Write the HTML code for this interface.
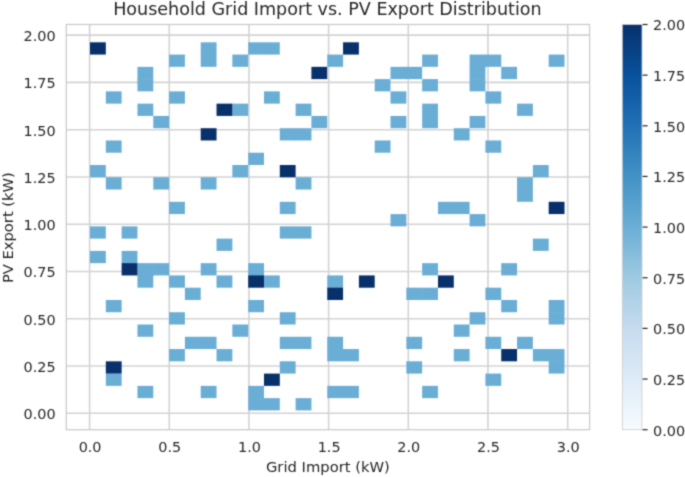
<!DOCTYPE html><html><head><meta charset="utf-8"><title>Household Grid Import vs. PV Export Distribution</title>
<style>html,body{margin:0;padding:0;background:#fff;}svg{display:block;}text{font-family:"DejaVu Sans","Liberation Sans",sans-serif;fill:#262626;}</style></head><body>
<svg width="685" height="477" viewBox="0 0 685 477">
<defs><linearGradient id="cb" x1="0" y1="1" x2="0" y2="0">
<stop offset="0.0000" stop-color="#f7fbff"/>
<stop offset="0.1250" stop-color="#deebf7"/>
<stop offset="0.2500" stop-color="#c6dbef"/>
<stop offset="0.3750" stop-color="#9ecae1"/>
<stop offset="0.5000" stop-color="#6baed6"/>
<stop offset="0.6250" stop-color="#4292c6"/>
<stop offset="0.7500" stop-color="#2171b5"/>
<stop offset="0.8750" stop-color="#08519c"/>
<stop offset="1.0000" stop-color="#08306b"/>
</linearGradient>
<filter id="soft" x="0" y="0" width="685" height="477" filterUnits="userSpaceOnUse" color-interpolation-filters="sRGB"><feConvolveMatrix order="3" kernelMatrix="0.03 0.11 0.03 0.11 0.44 0.11 0.03 0.11 0.03" divisor="1" edgeMode="duplicate" preserveAlpha="true"/></filter></defs>
<g filter="url(#soft)">
<rect width="685" height="477" fill="#ffffff"/>
<g stroke="#d3d3d3" stroke-width="1.6" fill="none">
<line x1="89.60" y1="24.50" x2="89.60" y2="429.70"/>
<line x1="169.28" y1="24.50" x2="169.28" y2="429.70"/>
<line x1="248.96" y1="24.50" x2="248.96" y2="429.70"/>
<line x1="328.64" y1="24.50" x2="328.64" y2="429.70"/>
<line x1="408.32" y1="24.50" x2="408.32" y2="429.70"/>
<line x1="488.00" y1="24.50" x2="488.00" y2="429.70"/>
<line x1="567.68" y1="24.50" x2="567.68" y2="429.70"/>
<line x1="66.30" y1="413.30" x2="589.60" y2="413.30"/>
<line x1="66.30" y1="366.03" x2="589.60" y2="366.03"/>
<line x1="66.30" y1="318.76" x2="589.60" y2="318.76"/>
<line x1="66.30" y1="271.49" x2="589.60" y2="271.49"/>
<line x1="66.30" y1="224.22" x2="589.60" y2="224.22"/>
<line x1="66.30" y1="176.95" x2="589.60" y2="176.95"/>
<line x1="66.30" y1="129.68" x2="589.60" y2="129.68"/>
<line x1="66.30" y1="82.41" x2="589.60" y2="82.41"/>
<line x1="66.30" y1="35.14" x2="589.60" y2="35.14"/>
</g>
<g>
<rect x="200.72" y="42.30" width="15.82" height="12.87" fill="#6aaed6"/>
<rect x="248.17" y="42.30" width="16.42" height="12.27" fill="#6aaed6"/>
<rect x="263.98" y="42.30" width="15.82" height="12.27" fill="#6aaed6"/>
<rect x="169.08" y="54.57" width="15.82" height="12.27" fill="#6aaed6"/>
<rect x="200.72" y="54.57" width="15.82" height="12.27" fill="#6aaed6"/>
<rect x="232.35" y="54.57" width="15.82" height="12.27" fill="#6aaed6"/>
<rect x="327.25" y="54.57" width="15.82" height="12.27" fill="#6aaed6"/>
<rect x="422.15" y="54.57" width="15.82" height="12.27" fill="#6aaed6"/>
<rect x="469.60" y="54.57" width="16.42" height="12.87" fill="#6aaed6"/>
<rect x="485.42" y="54.57" width="15.82" height="12.27" fill="#6aaed6"/>
<rect x="548.68" y="54.57" width="15.82" height="12.27" fill="#6aaed6"/>
<rect x="137.45" y="66.84" width="15.82" height="12.87" fill="#6aaed6"/>
<rect x="390.52" y="66.84" width="16.42" height="12.27" fill="#6aaed6"/>
<rect x="406.33" y="66.84" width="15.82" height="12.27" fill="#6aaed6"/>
<rect x="469.60" y="66.84" width="15.82" height="12.87" fill="#6aaed6"/>
<rect x="501.23" y="66.84" width="15.82" height="12.27" fill="#6aaed6"/>
<rect x="137.45" y="79.11" width="15.82" height="12.27" fill="#6aaed6"/>
<rect x="374.70" y="79.11" width="15.82" height="12.27" fill="#6aaed6"/>
<rect x="422.15" y="79.11" width="15.82" height="12.27" fill="#6aaed6"/>
<rect x="469.60" y="79.11" width="15.82" height="12.27" fill="#6aaed6"/>
<rect x="105.82" y="91.38" width="15.82" height="12.27" fill="#6aaed6"/>
<rect x="169.08" y="91.38" width="15.82" height="12.27" fill="#6aaed6"/>
<rect x="263.98" y="91.38" width="15.82" height="12.27" fill="#6aaed6"/>
<rect x="390.52" y="91.38" width="15.82" height="12.27" fill="#6aaed6"/>
<rect x="485.42" y="91.38" width="15.82" height="12.27" fill="#6aaed6"/>
<rect x="137.45" y="103.65" width="15.82" height="12.27" fill="#6aaed6"/>
<rect x="232.35" y="103.65" width="15.82" height="12.27" fill="#6aaed6"/>
<rect x="295.62" y="103.65" width="15.82" height="12.27" fill="#6aaed6"/>
<rect x="422.15" y="103.65" width="15.82" height="12.87" fill="#6aaed6"/>
<rect x="517.05" y="103.65" width="15.82" height="12.27" fill="#6aaed6"/>
<rect x="153.27" y="115.92" width="15.82" height="12.27" fill="#6aaed6"/>
<rect x="311.43" y="115.92" width="15.82" height="12.27" fill="#6aaed6"/>
<rect x="390.52" y="115.92" width="15.82" height="12.27" fill="#6aaed6"/>
<rect x="422.15" y="115.92" width="15.82" height="12.27" fill="#6aaed6"/>
<rect x="469.60" y="115.92" width="15.82" height="12.27" fill="#6aaed6"/>
<rect x="279.80" y="128.19" width="16.42" height="12.27" fill="#6aaed6"/>
<rect x="295.62" y="128.19" width="15.82" height="12.27" fill="#6aaed6"/>
<rect x="453.78" y="128.19" width="15.82" height="12.27" fill="#6aaed6"/>
<rect x="105.82" y="140.46" width="15.82" height="12.27" fill="#6aaed6"/>
<rect x="374.70" y="140.46" width="15.82" height="12.27" fill="#6aaed6"/>
<rect x="485.42" y="140.46" width="15.82" height="12.27" fill="#6aaed6"/>
<rect x="248.17" y="152.73" width="15.82" height="12.27" fill="#6aaed6"/>
<rect x="90.00" y="165.00" width="15.82" height="12.27" fill="#6aaed6"/>
<rect x="232.35" y="165.00" width="15.82" height="12.27" fill="#6aaed6"/>
<rect x="532.87" y="165.00" width="15.82" height="12.27" fill="#6aaed6"/>
<rect x="105.82" y="177.27" width="15.82" height="12.27" fill="#6aaed6"/>
<rect x="153.27" y="177.27" width="15.82" height="12.27" fill="#6aaed6"/>
<rect x="200.72" y="177.27" width="15.82" height="12.27" fill="#6aaed6"/>
<rect x="295.62" y="177.27" width="15.82" height="12.27" fill="#6aaed6"/>
<rect x="517.05" y="177.27" width="15.82" height="12.87" fill="#6aaed6"/>
<rect x="517.05" y="189.54" width="15.82" height="12.27" fill="#6aaed6"/>
<rect x="169.08" y="201.81" width="15.82" height="12.27" fill="#6aaed6"/>
<rect x="279.80" y="201.81" width="15.82" height="12.27" fill="#6aaed6"/>
<rect x="437.97" y="201.81" width="16.42" height="12.27" fill="#6aaed6"/>
<rect x="453.78" y="201.81" width="15.82" height="12.27" fill="#6aaed6"/>
<rect x="390.52" y="214.08" width="15.82" height="12.27" fill="#6aaed6"/>
<rect x="469.60" y="214.08" width="15.82" height="12.27" fill="#6aaed6"/>
<rect x="90.00" y="226.35" width="15.82" height="12.27" fill="#6aaed6"/>
<rect x="121.63" y="226.35" width="15.82" height="12.27" fill="#6aaed6"/>
<rect x="279.80" y="226.35" width="16.42" height="12.27" fill="#6aaed6"/>
<rect x="295.62" y="226.35" width="15.82" height="12.27" fill="#6aaed6"/>
<rect x="216.53" y="238.62" width="15.82" height="12.27" fill="#6aaed6"/>
<rect x="532.87" y="238.62" width="15.82" height="12.27" fill="#6aaed6"/>
<rect x="90.00" y="250.89" width="15.82" height="12.27" fill="#6aaed6"/>
<rect x="121.63" y="250.89" width="15.82" height="12.87" fill="#6aaed6"/>
<rect x="137.45" y="263.16" width="16.42" height="12.87" fill="#6aaed6"/>
<rect x="153.27" y="263.16" width="15.82" height="12.27" fill="#6aaed6"/>
<rect x="200.72" y="263.16" width="15.82" height="12.27" fill="#6aaed6"/>
<rect x="248.17" y="263.16" width="15.82" height="12.87" fill="#6aaed6"/>
<rect x="422.15" y="263.16" width="15.82" height="12.27" fill="#6aaed6"/>
<rect x="501.23" y="263.16" width="15.82" height="12.27" fill="#6aaed6"/>
<rect x="137.45" y="275.43" width="15.82" height="12.27" fill="#6aaed6"/>
<rect x="169.08" y="275.43" width="15.82" height="12.27" fill="#6aaed6"/>
<rect x="216.53" y="275.43" width="15.82" height="12.27" fill="#6aaed6"/>
<rect x="263.98" y="275.43" width="15.82" height="12.27" fill="#6aaed6"/>
<rect x="327.25" y="275.43" width="15.82" height="12.87" fill="#6aaed6"/>
<rect x="184.90" y="287.70" width="15.82" height="12.27" fill="#6aaed6"/>
<rect x="406.33" y="287.70" width="16.42" height="12.27" fill="#6aaed6"/>
<rect x="422.15" y="287.70" width="15.82" height="12.27" fill="#6aaed6"/>
<rect x="485.42" y="287.70" width="15.82" height="12.27" fill="#6aaed6"/>
<rect x="105.82" y="299.97" width="15.82" height="12.27" fill="#6aaed6"/>
<rect x="248.17" y="299.97" width="15.82" height="12.27" fill="#6aaed6"/>
<rect x="501.23" y="299.97" width="15.82" height="12.27" fill="#6aaed6"/>
<rect x="548.68" y="299.97" width="15.82" height="12.87" fill="#6aaed6"/>
<rect x="169.08" y="312.24" width="15.82" height="12.27" fill="#6aaed6"/>
<rect x="279.80" y="312.24" width="15.82" height="12.27" fill="#6aaed6"/>
<rect x="469.60" y="312.24" width="15.82" height="12.27" fill="#6aaed6"/>
<rect x="548.68" y="312.24" width="15.82" height="12.27" fill="#6aaed6"/>
<rect x="137.45" y="324.51" width="15.82" height="12.27" fill="#6aaed6"/>
<rect x="232.35" y="324.51" width="15.82" height="12.27" fill="#6aaed6"/>
<rect x="453.78" y="324.51" width="15.82" height="12.27" fill="#6aaed6"/>
<rect x="184.90" y="336.78" width="16.42" height="12.27" fill="#6aaed6"/>
<rect x="200.72" y="336.78" width="15.82" height="12.27" fill="#6aaed6"/>
<rect x="279.80" y="336.78" width="16.42" height="12.27" fill="#6aaed6"/>
<rect x="295.62" y="336.78" width="15.82" height="12.27" fill="#6aaed6"/>
<rect x="327.25" y="336.78" width="15.82" height="12.87" fill="#6aaed6"/>
<rect x="406.33" y="336.78" width="15.82" height="12.27" fill="#6aaed6"/>
<rect x="485.42" y="336.78" width="15.82" height="12.27" fill="#6aaed6"/>
<rect x="517.05" y="336.78" width="15.82" height="12.27" fill="#6aaed6"/>
<rect x="169.08" y="349.05" width="15.82" height="12.27" fill="#6aaed6"/>
<rect x="216.53" y="349.05" width="15.82" height="12.27" fill="#6aaed6"/>
<rect x="327.25" y="349.05" width="16.42" height="12.27" fill="#6aaed6"/>
<rect x="343.07" y="349.05" width="15.82" height="12.27" fill="#6aaed6"/>
<rect x="453.78" y="349.05" width="15.82" height="12.27" fill="#6aaed6"/>
<rect x="532.87" y="349.05" width="16.42" height="12.27" fill="#6aaed6"/>
<rect x="548.68" y="349.05" width="15.82" height="12.87" fill="#6aaed6"/>
<rect x="279.80" y="361.32" width="15.82" height="12.27" fill="#6aaed6"/>
<rect x="406.33" y="361.32" width="15.82" height="12.27" fill="#6aaed6"/>
<rect x="548.68" y="361.32" width="15.82" height="12.27" fill="#6aaed6"/>
<rect x="105.82" y="373.59" width="15.82" height="12.27" fill="#6aaed6"/>
<rect x="485.42" y="373.59" width="15.82" height="12.27" fill="#6aaed6"/>
<rect x="137.45" y="385.86" width="15.82" height="12.27" fill="#6aaed6"/>
<rect x="200.72" y="385.86" width="15.82" height="12.27" fill="#6aaed6"/>
<rect x="248.17" y="385.86" width="15.82" height="12.87" fill="#6aaed6"/>
<rect x="327.25" y="385.86" width="16.42" height="12.27" fill="#6aaed6"/>
<rect x="343.07" y="385.86" width="15.82" height="12.27" fill="#6aaed6"/>
<rect x="422.15" y="385.86" width="15.82" height="12.27" fill="#6aaed6"/>
<rect x="248.17" y="398.13" width="16.42" height="12.27" fill="#6aaed6"/>
<rect x="263.98" y="398.13" width="15.82" height="12.27" fill="#6aaed6"/>
<rect x="295.62" y="398.13" width="15.82" height="12.27" fill="#6aaed6"/>
<rect x="90.00" y="42.30" width="15.82" height="12.27" fill="#08306b"/>
<rect x="343.07" y="42.30" width="15.82" height="12.27" fill="#08306b"/>
<rect x="311.43" y="66.84" width="15.82" height="12.27" fill="#08306b"/>
<rect x="216.53" y="103.65" width="15.82" height="12.27" fill="#08306b"/>
<rect x="200.72" y="128.19" width="15.82" height="12.27" fill="#08306b"/>
<rect x="279.80" y="165.00" width="15.82" height="12.27" fill="#08306b"/>
<rect x="548.68" y="201.81" width="15.82" height="12.27" fill="#08306b"/>
<rect x="121.63" y="263.16" width="15.82" height="12.27" fill="#08306b"/>
<rect x="248.17" y="275.43" width="15.82" height="12.27" fill="#08306b"/>
<rect x="358.88" y="275.43" width="15.82" height="12.27" fill="#08306b"/>
<rect x="437.97" y="275.43" width="15.82" height="12.27" fill="#08306b"/>
<rect x="327.25" y="287.70" width="15.82" height="12.27" fill="#08306b"/>
<rect x="501.23" y="349.05" width="15.82" height="12.27" fill="#08306b"/>
<rect x="105.82" y="361.32" width="15.82" height="12.27" fill="#08306b"/>
<rect x="263.98" y="373.59" width="15.82" height="12.27" fill="#08306b"/>
</g>
<rect x="66.30" y="24.50" width="523.30" height="405.20" fill="none" stroke="#cccccc" stroke-width="1.3"/>
<rect x="622.30" y="24.50" width="19.70" height="405.20" fill="url(#cb)" stroke="#cccccc" stroke-width="0.8"/>
<line x1="642.60" y1="429.70" x2="647.60" y2="429.70" stroke="#262626" stroke-width="1.2"/>
<text x="653.00" y="435.50" font-size="14.4">0.00</text>
<line x1="642.60" y1="379.05" x2="647.60" y2="379.05" stroke="#262626" stroke-width="1.2"/>
<text x="653.00" y="384.85" font-size="14.4">0.25</text>
<line x1="642.60" y1="328.40" x2="647.60" y2="328.40" stroke="#262626" stroke-width="1.2"/>
<text x="653.00" y="334.20" font-size="14.4">0.50</text>
<line x1="642.60" y1="277.75" x2="647.60" y2="277.75" stroke="#262626" stroke-width="1.2"/>
<text x="653.00" y="283.55" font-size="14.4">0.75</text>
<line x1="642.60" y1="227.10" x2="647.60" y2="227.10" stroke="#262626" stroke-width="1.2"/>
<text x="653.00" y="232.90" font-size="14.4">1.00</text>
<line x1="642.60" y1="176.45" x2="647.60" y2="176.45" stroke="#262626" stroke-width="1.2"/>
<text x="653.00" y="182.25" font-size="14.4">1.25</text>
<line x1="642.60" y1="125.80" x2="647.60" y2="125.80" stroke="#262626" stroke-width="1.2"/>
<text x="653.00" y="131.60" font-size="14.4">1.50</text>
<line x1="642.60" y1="75.15" x2="647.60" y2="75.15" stroke="#262626" stroke-width="1.2"/>
<text x="653.00" y="80.95" font-size="14.4">1.75</text>
<line x1="642.60" y1="24.50" x2="647.60" y2="24.50" stroke="#262626" stroke-width="1.2"/>
<text x="653.00" y="30.30" font-size="14.4">2.00</text>
<text x="55.60" y="419.20" font-size="14.4" text-anchor="end">0.00</text>
<text x="55.60" y="371.93" font-size="14.4" text-anchor="end">0.25</text>
<text x="55.60" y="324.66" font-size="14.4" text-anchor="end">0.50</text>
<text x="55.60" y="277.39" font-size="14.4" text-anchor="end">0.75</text>
<text x="55.60" y="230.12" font-size="14.4" text-anchor="end">1.00</text>
<text x="55.60" y="182.85" font-size="14.4" text-anchor="end">1.25</text>
<text x="55.60" y="135.58" font-size="14.4" text-anchor="end">1.50</text>
<text x="55.60" y="88.31" font-size="14.4" text-anchor="end">1.75</text>
<text x="55.60" y="41.04" font-size="14.4" text-anchor="end">2.00</text>
<text x="90.10" y="451.80" font-size="14.4" text-anchor="middle">0.0</text>
<text x="169.78" y="451.80" font-size="14.4" text-anchor="middle">0.5</text>
<text x="249.46" y="451.80" font-size="14.4" text-anchor="middle">1.0</text>
<text x="329.14" y="451.80" font-size="14.4" text-anchor="middle">1.5</text>
<text x="408.82" y="451.80" font-size="14.4" text-anchor="middle">2.0</text>
<text x="488.50" y="451.80" font-size="14.4" text-anchor="middle">2.5</text>
<text x="568.18" y="451.80" font-size="14.4" text-anchor="middle">3.0</text>
<text x="327.9" y="472.4" font-size="14.75" text-anchor="middle">Grid Import (kW)</text>
<text transform="translate(12.8,227.6) rotate(-90)" font-size="14.7" text-anchor="middle">PV Export (kW)</text>
<text x="327.4" y="15.2" font-size="17.55" text-anchor="middle">Household Grid Import vs. PV Export Distribution</text>
</g>
</svg></body></html>
